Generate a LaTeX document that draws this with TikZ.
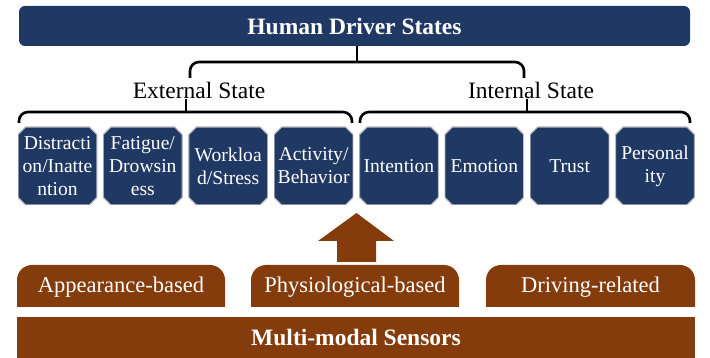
\documentclass[tikz,border=0pt]{standalone}
\usepackage{fontspec}
\setmainfont{Liberation Serif}
\definecolor{navy}{HTML}{203864}
\definecolor{rust}{HTML}{843C0C}
\definecolor{edge}{HTML}{BFBFBF}
\begin{document}
\begin{tikzpicture}[x=1pt,y=-1pt,
  statebox/.style={rectangle, minimum width=79pt, minimum height=78pt, inner sep=0pt,
    text=white, align=center, font=\fontsize{19.6}{23}\selectfont,
    path picture={
      \path[fill=navy, draw=edge, line width=1.2pt]
        ([xshift=7.5pt]path picture bounding box.north west) -- ([xshift=-7.5pt]path picture bounding box.north east)
        -- ([yshift=-7.5pt]path picture bounding box.north east) -- ([yshift=7.5pt]path picture bounding box.south east)
        -- ([xshift=-7.5pt]path picture bounding box.south east) -- ([xshift=7.5pt]path picture bounding box.south west)
        -- ([yshift=7.5pt]path picture bounding box.south west) -- ([yshift=-7.5pt]path picture bounding box.north west) -- cycle;}},
  bracket/.style={line width=2.6pt, black, rounded corners=9pt},
  stem/.style={line width=2.6pt, black},
  tablabel/.style={text=white, font=\fontsize{22.5}{26}\selectfont, inner sep=0pt},
  grouplabel/.style={font=\fontsize{23.5}{27}\selectfont, inner sep=0pt}]
\useasboundingbox (0,0) rectangle (710,358);
% title
\node[fill=navy, rounded corners=6pt, minimum width=671pt, minimum height=40pt, inner sep=0pt,
  text=white, font=\bfseries\fontsize{23.5}{27}\selectfont] (title) at (354.5,26) {Human Driver States};
% group labels
\node[grouplabel] (ext) at (199,90) {External State};
\node[grouplabel] (int) at (531,90) {Internal State};
% top bracket
\coordinate (tj) at (357,62);
\draw[stem] (title.south -| tj) -- (tj);
\draw[bracket] (190,78) -- (190,62) -- (524,62) -- (524,78);
% lower brackets
\coordinate (ej) at (186,112);
\coordinate (ij) at (527,112);
\draw[stem] (ext.south -| ej) ++(0,1) -- (ej);
\draw[stem] (int.south -| ij) ++(0,1) -- (ij);
\draw[bracket] (19,123) -- (19,112) -- (352,112) -- (352,123);
\draw[bracket] (360,123) -- (360,112) -- (690,112) -- (690,123);
% state boxes
\node[statebox] (b1) at (57.5,166) {Distracti\\on/Inatte\\ntion};
\node[statebox] (b2) at (142.8,166) {Fatigue/\\Drowsin\\ess};
\node[statebox] (b3) at (228.2,166) {Workloa\\d/Stress};
\node[statebox] (b4) at (313.6,166) {Activity/\\Behavior};
\node[statebox] (b5) at (398.9,166) {Intention};
\node[statebox] (b6) at (484.3,166) {Emotion};
\node[statebox] (b7) at (569.6,166) {Trust};
\node[statebox] (b8) at (655,166) {Personal\\ity};
% arrow
\fill[rust] (337,262) -- (337,241) -- (318,241) -- (356.5,213) -- (394,241) -- (376,241) -- (376,262) -- cycle;
% tabs
\fill[rust] (17,307) [rounded corners=15pt] -- (17,265) -- (225,265) [sharp corners] -- (225,307) -- cycle;
\fill[rust] (251,307) [rounded corners=15pt] -- (251,265) -- (459,265) [sharp corners] -- (459,307) -- cycle;
\fill[rust] (486,307) [rounded corners=15pt] -- (486,265) -- (695,265) [sharp corners] -- (695,307) -- cycle;
\node[tablabel] (t1) at (121,287) {Appearance-based};
\node[tablabel] (t2) at (355,287) {Physiological-based};
\node[tablabel] (t3) at (590.5,287) {Driving-related};
% sensors bar
\node[fill=rust, minimum width=678pt, minimum height=41pt, inner sep=0pt, text=white,
  font=\bfseries\fontsize{23.5}{27}\selectfont] (sens) at (356,337.5) {Multi-modal Sensors};
\end{tikzpicture}
\end{document}
